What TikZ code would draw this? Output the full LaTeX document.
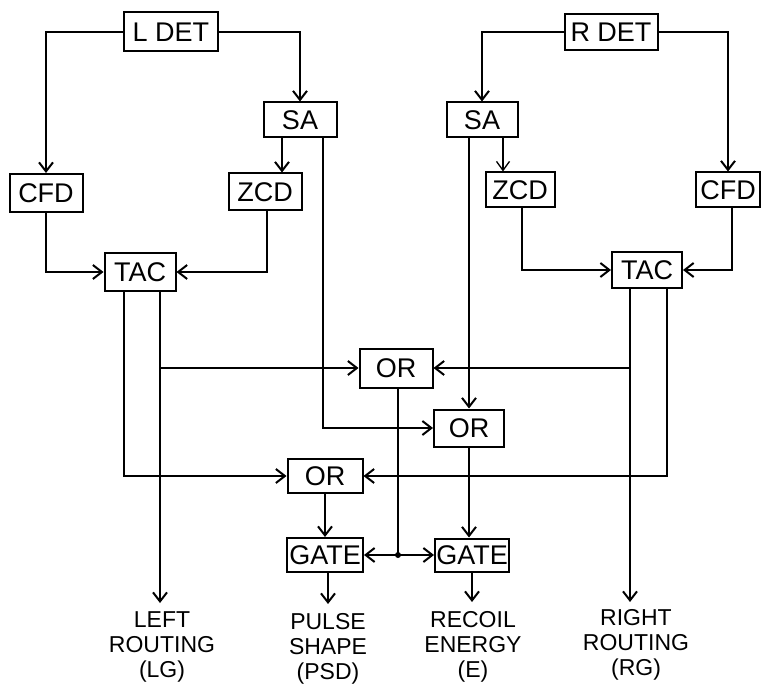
\documentclass[tikz,border=0pt]{standalone}
\usepackage{fontspec}
\setmainfont{Liberation Sans}
\usetikzlibrary{arrows.meta}
\begin{document}
\begin{tikzpicture}[x=1pt,y=-1pt,
  box/.style={draw,line width=2pt,inner sep=0pt,font=\fontsize{27}{27}\selectfont},
  arr/.style={line width=2pt,-{Straight Barb[length=9pt,width=14pt,line width=2pt]}},
  thinarr/.style={line width=1.3pt,-{Straight Barb[length=9pt,width=13pt,line width=1.3pt]}},
  dbl/.style={line width=2pt,{Straight Barb[length=9pt,width=14pt,line width=2pt]}-{Straight Barb[length=9pt,width=14pt,line width=2pt]}},
  ln/.style={line width=1.8pt},
  lbl/.style={align=center,inner sep=0pt,anchor=north,font=\fontsize{23}{25}\selectfont}]
\useasboundingbox (0,0) rectangle (762,684);
% boxes
\node[box,minimum width=94pt,minimum height=39pt] (LDET) at (171,32) {L DET};
\node[box,minimum width=73pt,minimum height=38pt] (CFDL) at (46,193) {CFD};
\node[box,minimum width=73pt,minimum height=35pt] (SAL) at (300,120) {SA};
\node[box,minimum width=73pt,minimum height=37pt] (ZCDL) at (265,192) {ZCD};
\node[box,minimum width=71pt,minimum height=38pt] (TACL) at (140,272) {TAC};
\node[box,minimum width=93pt,minimum height=36pt] (RDET) at (611,32) {R DET};
\node[box,minimum width=71pt,minimum height=35pt] (SAR) at (482,120) {SA};
\node[box,minimum width=64pt,minimum height=35pt] (CFDR) at (728,190) {CFD};
\node[box,minimum width=69pt,minimum height=35pt] (ZCDR) at (520,190) {ZCD};
\node[box,minimum width=70pt,minimum height=36pt] (TACR) at (647,270) {TAC};
\node[box,minimum width=73pt,minimum height=39pt] (OR1) at (396,368) {OR};
\node[box,minimum width=70pt,minimum height=37pt] (OR2) at (469,428) {OR};
\node[box,minimum width=75pt,minimum height=34pt] (OR3) at (325,476) {OR};
\node[box,minimum width=76pt,minimum height=34pt] (GATE1) at (325,555) {GATE};
\node[box,minimum width=74pt,minimum height=33pt] (GATE2) at (472,555) {GATE};
% labels
\node[lbl] (LG) at (162,611) {LEFT\\ROUTING\\(LG)};
\node[lbl] (PSD) at (328,613) {PULSE\\SHAPE\\(PSD)};
\node[lbl] (E) at (473,611) {RECOIL\\ENERGY\\(E)};
\node[lbl] (RG) at (636,609) {RIGHT\\ROUTING\\(RG)};
% left side
\draw[arr] (LDET.west) -| (CFDL.north);
\draw[arr] (LDET.east) -| (SAL.north);
\draw[arr] ([xshift=-18pt]SAL.south) -- ([xshift=17pt]ZCDL.north);
\draw[arr] ([xshift=23pt]SAL.south) |- (OR2.west);
\draw[arr] (CFDL.south) |- (TACL.west);
\draw[arr] ([xshift=2pt]ZCDL.south) |- (TACL.east);
\coordinate (tl1) at ([xshift=-16pt]TACL.south);
\coordinate (tl2) at ([xshift=20pt]TACL.south);
\draw[arr] (tl1) |- (OR3.west);
\draw[arr] (tl2) -- ([yshift=8pt]tl2 |- LG.north);
\draw[arr] (tl2 |- OR1.west) -- (OR1.west);
% right side
\draw[arr] (RDET.west) -| (SAR.north);
\draw[arr] (RDET.east) -| (CFDR.north);
\draw[thinarr] ([xshift=21pt]SAR.south) -- ([xshift=-17pt]ZCDR.north);
\draw[arr] (SAR.south -| OR2.north) -- (OR2.north);
\draw[arr] ([xshift=2pt]ZCDR.south) |- (TACR.west);
\draw[arr] ([xshift=4pt]CFDR.south) |- (TACR.east);
\coordinate (tr1) at ([xshift=-17pt]TACR.south);
\coordinate (tr2) at ([xshift=20pt]TACR.south);
\draw[arr] (tr1) -- ([yshift=7pt]tr1 |- RG.north);
\draw[arr] (tr1 |- OR1.east) -- (OR1.east);
\draw[arr] (tr2) |- (OR3.east);
% bottom
\draw[arr] (OR3.south) -- (GATE1.north);
\draw[arr] (OR2.south) -- (OR2.south |- GATE2.north);
\draw[ln] ([xshift=2pt]OR1.south) -- ([xshift=2pt]OR1.south |- GATE1.east) coordinate (j);
\fill (j) circle (3pt);
\draw[dbl] (GATE1.east) -- (GATE2.west);
\draw[arr] ([xshift=3pt]GATE1.south) -- ([xshift=3pt,yshift=9pt]GATE1.south |- PSD.north);
\draw[arr] (GATE2.south) -- ([yshift=9pt]GATE2.south |- E.north);
\end{tikzpicture}
\end{document}
